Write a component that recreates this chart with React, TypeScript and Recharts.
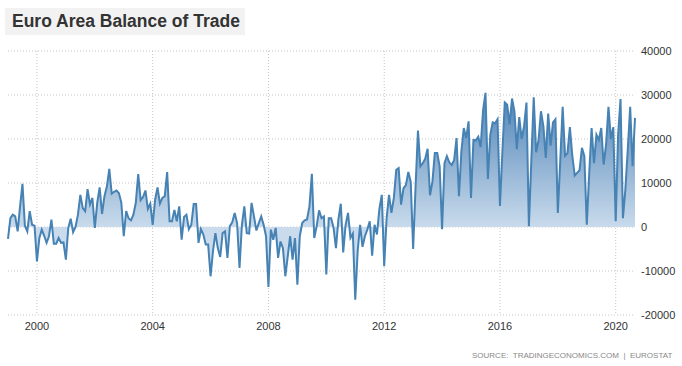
import React from "react";
import { AreaChart, Area, XAxis, YAxis, CartesianGrid } from "recharts";

const startYear = 1999;

const balance1999to2004 = [
  -2700, 2000, 2800, 2400, -1000, 4700, 9800, 300, -1000, 3600, 500, 300,
  -7800, -2500, -600, -2000, -3600, -2100, 1700, -3800, -3800, -2500, -3600, -3500,
  -7400, -200, 1900, -1200, 0, 2800, 7300, 4300, 3600, 8600, 5100, 6600,
  -200, 5500, 9000, 3000, 7000, 9200, 13200, 7600, 8000, 8300, 7700, 5500,
  -2100, 3600, 2000, 1500, 2800, 5500, 12000, 6100, 6800, 8300, 4100, 5300,
  500, 6200, 9000, 5300, 6600, 7000, 12500, 1300, 1300, 3900, 1300, 4700,
];

const balance2005to2011 = [
  -2900, 2300, 2800, -500, 500, 5200, 5200, -3600, -500, -1700, -4000, -4000,
  -11200, -5500, -1400, -4800, -6800, -1400, -1000, -7000, 200, 1100, 3200, 900,
  -9300, 500, 4700, -1400, -1500, 5500, 2400, -800, 900, 2400, 500, -2100,
  -13600, -600, -2900, -200, -7000, -3300, -4800, -11200, -6700, -2100, -7400, -2500,
  -13100, -2100, 900, 1500, 1700, 4700, 12100, -2500, 200, 3800, 2000, 2400,
  -10800, 2000, 2000, -200, -4800, 1700, 5300, -5800, 500, 3200, -2500, -1500,
  -16500, -5500, 500, -4500, -2100, -600, 1300, -6500, 500, -1700, 4100, 7300,
];

const balance2012to2020 = [
  -8900, 2000, 7300, 3200, 6600, 13000, 13400, 5100, 8800, 9500, 12500, 10300,
  -5000, 9000, 21900, 13800, 14500, 15500, 17800, 7200, 10300, 16800, 16800, 13700,
  -500, 14500, 16100, 14700, 14100, 15200, 20200, 7000, 17200, 22500, 20200, 24000,
  6600, 19800, 19700, 20500, 18200, 26500, 30500, 10900, 21000, 23800, 23600, 24500,
  4800, 17000, 28300, 27800, 23300, 29200, 26300, 17700, 25000, 20000, 22900, 28300,
  200, 15000, 29500, 17000, 19800, 26300, 22900, 15700, 25800, 18500, 23800, 24500,
  3200, 15000, 27300, 16200, 16800, 22700, 16200, 11700, 12300, 12900, 18000, 16100,
  500, 12000, 22500, 14500, 21000, 19800, 22500, 14200, 18700, 27300, 20000, 22700,
  1300, 21000, 29100, 2000, 8500, 17600, 27300, 13800, 24800,
];

const xTickYears = [2000, 2004, 2008, 2012, 2016, 2020];
const yTicks = [-20000, -10000, 0, 10000, 20000, 30000, 40000];

const allValues = [...balance1999to2004, ...balance2005to2011, ...balance2012to2020];
const data = allValues.map((v, i) => ({ m: i, value: v }));
const xTicks = xTickYears.map((y) => (y - startYear) * 12);

export default function App() {
  return (
    <div
      style={{
        position: "absolute",
        left: 0,
        top: 0,
        width: 682,
        height: 366,
        background: "#ffffff",
        fontFamily: "'Liberation Sans', Arial, sans-serif",
      }}
    >
      <div
        style={{
          position: "absolute",
          left: 5,
          top: 8,
          width: 240,
          height: 27,
          background: "#f2f2f2",
          color: "#333333",
          fontWeight: "bold",
          fontSize: 17.5,
          lineHeight: "27px",
          paddingLeft: 7,
          boxSizing: "border-box",
          whiteSpace: "nowrap",
        }}
      >
        Euro Area Balance of Trade
      </div>
      <div style={{ position: "absolute", left: 0, top: 0 }}>
        <AreaChart
          width={682}
          height={366}
          data={data}
          margin={{ top: 51, right: 0, left: 8, bottom: 31 }}
        >
          <defs>
            <linearGradient id="tradeFill" x1="0" y1="0" x2="0" y2="1">
              <stop offset="0" stopColor="#4f83b7" />
              <stop offset="0.65" stopColor="#c9dbec" />
              <stop offset="1" stopColor="#c9dbec" />
            </linearGradient>
          </defs>
          <CartesianGrid
            stroke="#c4c4c4"
            strokeDasharray="1 2"
            horizontalValues={yTicks}
            verticalValues={xTicks}
          />
          <XAxis
            dataKey="m"
            type="number"
            domain={[0, allValues.length - 1]}
            ticks={xTicks}
            tickFormatter={(v) => String(startYear + v / 12)}
            axisLine={false}
            tickLine={false}
            tickSize={0}
            tickMargin={7}
            height={20}
            tick={{ fill: "#333333", fontSize: 11 }}
            interval={0}
          />
          <YAxis
            orientation="right"
            type="number"
            domain={[-20000, 40000]}
            ticks={yTicks}
            axisLine={false}
            tickLine={false}
            tickSize={0}
            tickMargin={6}
            width={47}
            tick={{ fill: "#333333", fontSize: 11, textAnchor: "start" }}
            interval={0}
          />
          <Area
            type="linear"
            dataKey="value"
            stroke="#4682b4"
            strokeWidth={2}
            fill="url(#tradeFill)"
            fillOpacity={1}
            dot={false}
            activeDot={false}
            isAnimationActive={false}
          />
        </AreaChart>
      </div>
      <div
        style={{
          position: "absolute",
          left: 472,
          top: 351,
          fontSize: 8,
          color: "#888888",
          whiteSpace: "pre",
          lineHeight: "10px",
        }}
      >
        {"SOURCE:  TRADINGECONOMICS.COM  |  EUROSTAT"}
      </div>
    </div>
  );
}
